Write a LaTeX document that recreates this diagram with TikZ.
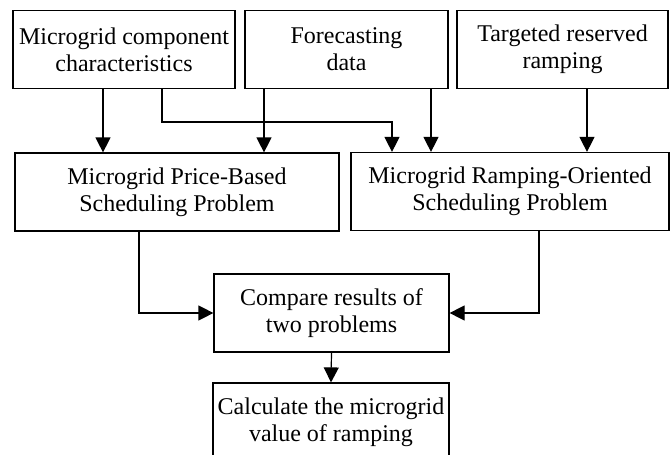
\documentclass[tikz,border=0pt]{standalone}
\usepackage{fontspec}
\setmainfont{Liberation Serif}
\usepackage{tikz}
\usetikzlibrary{arrows.meta}

\begin{document}
\begin{tikzpicture}[x=0.5pt,y=-0.5pt,
	blk/.style={draw,line width=0.6pt,align=center,inner sep=0pt,minimum height=39pt,font=\fontsize{12}{13.5}\selectfont},
	arr/.style={line width=0.6pt,-{Triangle[length=7.5pt,width=7.5pt]}}]
	\useasboundingbox (0,0) rectangle (670,455);
		\node[blk,minimum width=111pt] (comp) at (124,49.5){Microgrid component\\characteristics};
		\node[blk,minimum width=101.5pt] (fore) at (346.5,49.5){Forecasting\\data};
		\node[blk,minimum width=105.5pt] (targ) at (562.5,49.5){Targeted reserved\\ramping};
		\node[blk,minimum width=162pt] (price) at (177,192){Microgrid Price-Based\\Scheduling Problem};
		\node[blk,minimum width=159pt] (ramp) at (510,191.5){Microgrid Ramping-Oriented\\Scheduling Problem};
		\node[blk,minimum width=117.5pt] (comparebox) at (331.5,313){Compare results of\\two problems};
		\node[blk,minimum width=118pt] (calc) at (331,422){Calculate the microgrid\\value of ramping};
	\coordinate (bend) at (392,122);
		\draw[arr] (103,0 |- comp.south) -- (103,0 |- price.north);
		\draw[arr] (162,0 |- comp.south) |- (bend) -- (bend |- ramp.north);
		\draw[arr] (264,0 |- fore.south) -- (264,0 |- price.north);
		\draw[arr] (431,0 |- fore.south) -- (431,0 |- ramp.north);
		\draw[arr] (587,0 |- targ.south) -- (587,0 |- ramp.north);
		\draw[arr] (139,0 |- price.south) |- (comparebox.west);
		\draw[arr] (539,0 |- ramp.south) |- (comparebox.east);
		\draw[arr] (comparebox.south) -- (calc.north);
\end{tikzpicture}
\end{document}
